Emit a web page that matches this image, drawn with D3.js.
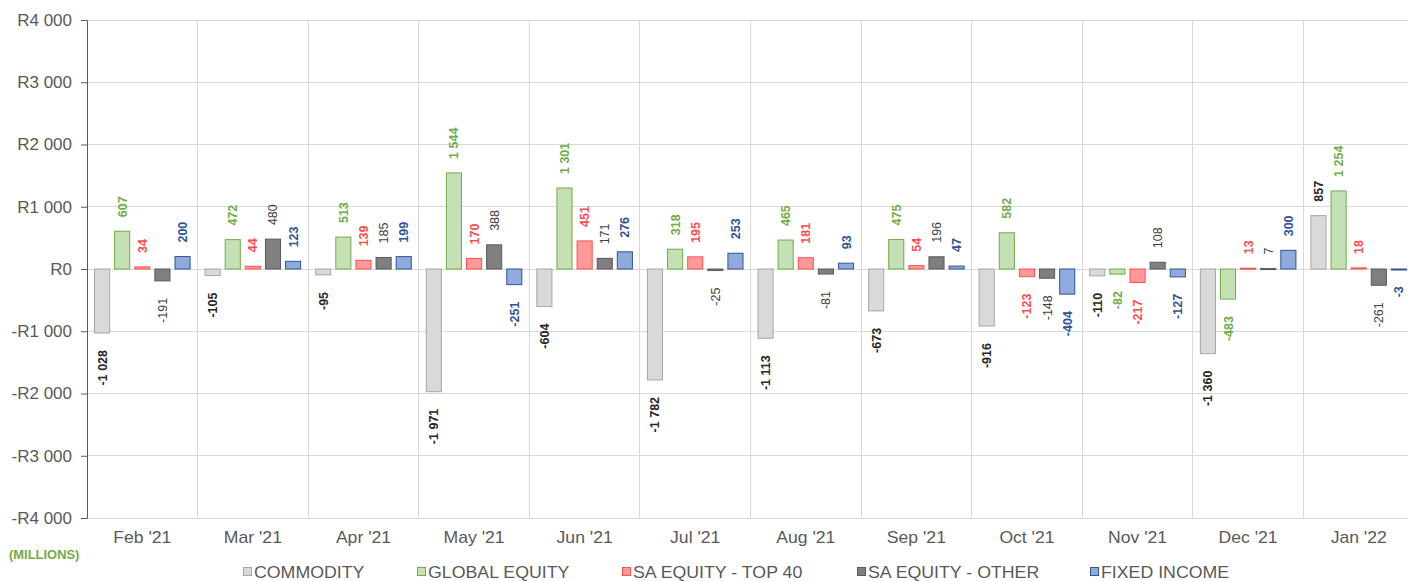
<!DOCTYPE html>
<html><head><meta charset="utf-8">
<script src="https://cdn.jsdelivr.net/npm/d3@7"></script>
<style>body{margin:0;background:#fff;} svg{display:block;font-family:"Liberation Sans",Arial,sans-serif;}</style>
</head><body>
<svg id="c" width="1408" height="581"></svg>
<script>
const months = ["Feb '21","Mar '21","Apr '21","May '21","Jun '21","Jul '21","Aug '21","Sep '21","Oct '21","Nov '21","Dec '21","Jan '22"];
const seriesNames = ["COMMODITY","GLOBAL EQUITY","SA EQUITY - TOP 40","SA EQUITY - OTHER","FIXED INCOME"];
const commodity = [-1028,-105,-95,-1971,-604,-1782,-1113,-673,-916,-110,-1360,857];
const globalEquity = [607,472,513,1544,1301,318,465,475,582,-82,-483,1254];
const saTop40 = [34,44,139,170,451,195,181,54,-123,-217,13,18];
const saOther = [-191,480,185,388,171,-25,-81,196,-148,108,7,-261];
const fixedIncome = [200,123,199,-251,276,253,93,47,-404,-127,300,-3];
const yTicks = [-4000,-3000,-2000,-1000,0,1000,2000,3000,4000];

const seriesVals = [commodity, globalEquity, saTop40, saOther, fixedIncome];
const fills = ["#d9d9d9","#c5e0b4","#ff9999","#7f7f7f","#8faadc"];
const strokes = ["#a6a6a6","#70ad47","#ff5050","#595959","#2f5597"];
const labelColors = ["#262626","#70ad47","#ff4d4d","#404040","#2f5597"];
const labelWeights = ["bold","bold","bold","normal","bold"];

const svg = d3.select("#c");
const L = 87, R = 1414, T = 20, B = 518;
const x0 = d3.scaleBand().domain(months).range([L, R]).paddingInner(0).paddingOuter(0);
const x1 = d3.scaleBand().domain(d3.range(5)).range([7, x0.bandwidth()-7]).paddingInner(0.2).paddingOuter(0);
const y = d3.scaleLinear().domain([-4000, 4000]).range([B, T]);

const fmt = v => {
  const s = Math.abs(v).toString().replace(/\B(?=(\d{3})+(?!\d))/g, " ");
  return (v < 0 ? "-" : "") + s;
};

// horizontal grid
svg.append("g").selectAll("line").data(yTicks).join("line")
  .attr("x1", L).attr("x2", R).attr("y1", d => y(d)).attr("y2", d => y(d))
  .attr("stroke", "#d9d9d9").attr("stroke-width", 1).attr("shape-rendering","crispEdges");
// vertical grid
svg.append("g").selectAll("line").data(months).join("line")
  .attr("x1", d => x0(d) + x0.bandwidth()).attr("x2", d => x0(d) + x0.bandwidth())
  .attr("y1", T).attr("y2", B)
  .attr("stroke", "#d9d9d9").attr("stroke-width", 1).attr("shape-rendering","crispEdges");

// y axis
const yAxis = d3.axisLeft(y).tickValues(yTicks).tickSize(6).tickPadding(9)
  .tickFormat(d => (d < 0 ? "-R" : "R") + fmt(Math.abs(d)));
const ga = svg.append("g").attr("transform", `translate(${L},0)`).call(yAxis);
ga.select(".domain").attr("stroke", "#595959");
ga.selectAll(".tick line").attr("stroke", "#595959");
ga.selectAll("text").attr("fill", "#595959").style("font-size", "17px").style("font-family","'Liberation Sans',Arial,sans-serif");

// x labels
const xAxis = d3.axisBottom(x0).tickSize(0).tickPadding(14);
const gx = svg.append("g").attr("transform", `translate(0,${B})`).call(xAxis);
gx.select(".domain").remove();
gx.selectAll("text").attr("fill", "#595959").attr("transform", "scale(1.1,1)")
  .style("font-size", "16px").style("font-family","'Liberation Sans',Arial,sans-serif");

// bars
const data = [];
months.forEach((m, i) => seriesVals.forEach((arr, s) => data.push({m, s, v: arr[i]})));
const gb = svg.append("g");
gb.selectAll("rect").data(data).join("rect")
  .attr("x", d => x0(d.m) + x1(d.s) + 0.5)
  .attr("width", x1.bandwidth() - 1)
  .attr("y", d => Math.min(y(d.v), y(0)))
  .attr("height", d => Math.max(Math.abs(y(d.v) - y(0)), 1))
  .attr("fill", d => fills[d.s]).attr("stroke", d => strokes[d.s]).attr("stroke-width", 1);

// labels
gb.selectAll("text").data(data).join("text")
  .attr("transform", d => {
    const cx = x0(d.m) + x1(d.s) + x1.bandwidth()/2;
    const yy = d.v >= 0 ? y(d.v) - 14 : y(d.v) + 17;
    return `translate(${cx + 4.5},${yy}) rotate(-90)`;
  })
  .attr("text-anchor", d => d.v >= 0 ? "start" : "end")
  .attr("fill", d => labelColors[d.s])
  .attr("font-weight", d => labelWeights[d.s])
  .style("font-size", "12.5px")
  .text(d => fmt(d.v));

// millions
svg.append("text").attr("transform", "translate(9,559) scale(1.08,1)").attr("fill", "#70ad47")
  .attr("font-weight", "bold").style("font-size", "12px").text("(MILLIONS)");

// legend
const legX = [243, 417, 622, 857, 1090];
const lg = svg.append("g").selectAll("g").data(seriesNames).join("g")
  .attr("transform", (d,i) => `translate(${legX[i]},572)`);
lg.append("rect").attr("x", 0.5).attr("y", -4.5).attr("width", 8).attr("height", 8)
  .attr("fill", (d,i) => fills[i]).attr("stroke", (d,i) => strokes[i]);
lg.append("text").attr("transform", "translate(11,6) scale(1.11,1)").attr("fill", "#595959")
  .style("font-size", "16px").text(d => d);
</script>
</body></html>
